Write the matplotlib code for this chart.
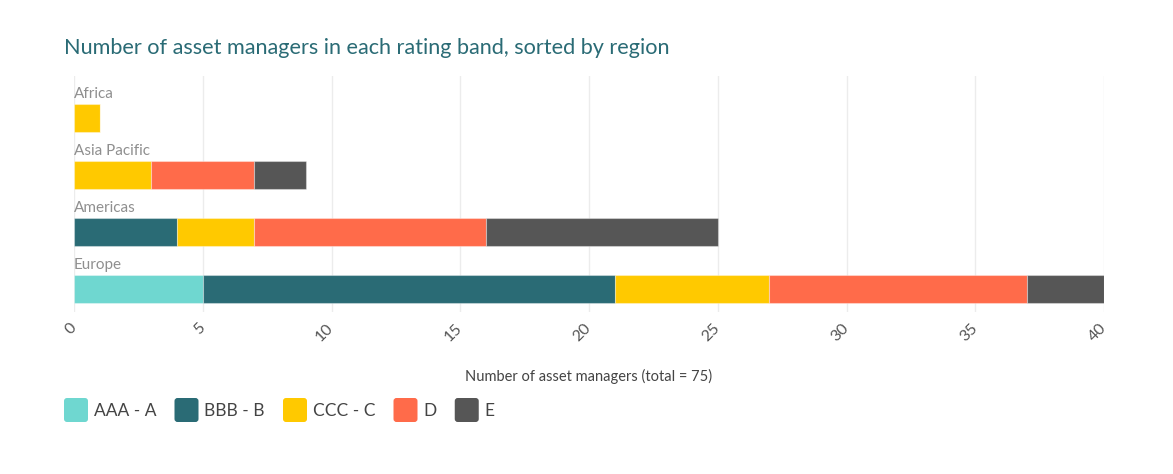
import matplotlib
matplotlib.use('Agg')
from matplotlib import pyplot as plt
from matplotlib.patches import FancyBboxPatch
import numpy as np

plt.rcParams['font.family'] = ['Lato', 'DejaVu Sans']

regions = ['Europe', 'Americas', 'Asia Pacific', 'Africa']
bands = ['AAA - A', 'BBB - B', 'CCC - C', 'D', 'E']
band_colors = ['#6fd7d0', '#2a6b75', '#ffc900', '#ff6b4a', '#565656']

# counts per region, in order of regions list
aaa = [5, 0, 0, 0]
bbb = [16, 4, 0, 0]
ccc = [6, 3, 3, 1]
d = [10, 9, 4, 0]
e = [3, 9, 2, 0]
series = [aaa, bbb, ccc, d, e]

x_ticks = [0, 5, 10, 15, 20, 25, 30, 35, 40]
total = sum(sum(s) for s in series)

W, H = 1173, 474
fig = plt.figure(figsize=(W / 100, H / 100), dpi=100)
ax = fig.add_axes([74 / W, 1 - 312 / H, 1030 / W, 236 / H])

y = np.arange(len(regions))
left = np.zeros(len(regions))
for vals, col in zip(series, band_colors):
    vals = np.array(vals, dtype=float)
    ax.barh(y, vals, left=left, height=0.5, color=col,
            edgecolor=(1, 1, 1, 0.35), linewidth=0.8, zorder=3)
    left += vals

for yi, name in zip(y, regions):
    ax.text(0, yi + 0.3, name, fontsize=11, color='#8f8f8f',
            ha='left', va='bottom', zorder=4)

ax.set_xlim(0, 40)
ax.set_ylim(-0.4, 3.74)
ax.set_xticks(x_ticks)
ax.set_xticklabels([str(t) for t in x_ticks], rotation=45, ha='right',
                   va='center', rotation_mode='anchor', fontsize=11.5, color='#555555')
ax.tick_params(axis='x', length=0, pad=10)
ax.set_yticks([])
ax.grid(axis='x', color='#ececec', linewidth=1, zorder=0)
for sp in ax.spines.values():
    sp.set_visible(False)

fig.text(589 / W, 1 - 376 / H, 'Number of asset managers (total = %d)' % total,
         ha='center', va='center', fontsize=10.5, color='#444444')

fig.text(64 / W, 1 - 48 / H,
         'Number of asset managers in each rating band, sorted by region',
         ha='left', va='center', fontsize=15.6, color='#2a6b75')

# legend drawn by hand in pixel space so the swatches are rounded squares
lax = fig.add_axes([0, 0, 1, 1], zorder=5)
lax.set_xlim(0, W)
lax.set_ylim(H, 0)
lax.axis('off')
renderer = fig.canvas.get_renderer()
lx, ly, box = 64, 410, 24
for b, c in zip(bands, band_colors):
    lax.add_patch(FancyBboxPatch((lx, ly - box / 2), box, box,
                                 boxstyle='round,pad=0,rounding_size=3',
                                 facecolor=c, edgecolor='none'))
    t = lax.text(lx + box + 6, ly + 1, b, fontsize=12.5, color='#444444',
                 ha='left', va='center')
    tw = t.get_window_extent(renderer).width
    lx = lx + box + 6 + tw + 18

fig.savefig('out.png', dpi=100, facecolor='white')
